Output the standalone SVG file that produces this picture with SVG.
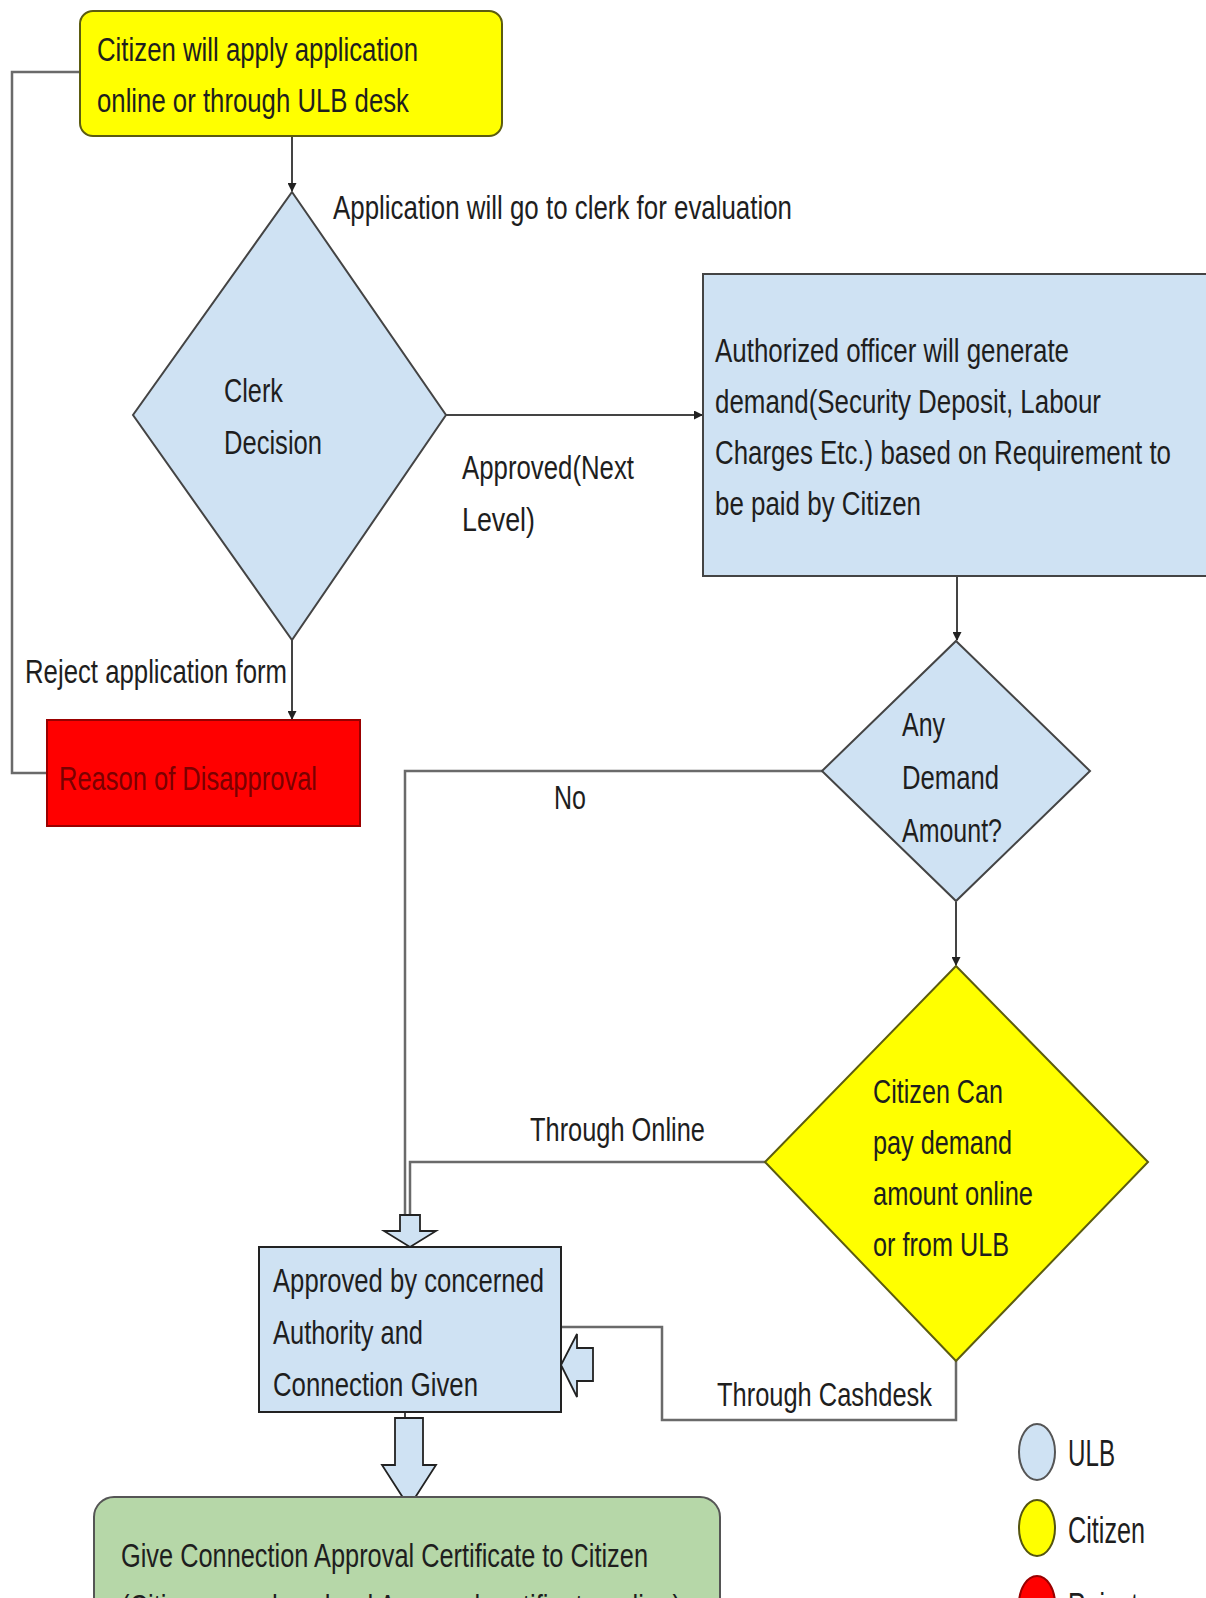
<svg xmlns="http://www.w3.org/2000/svg" width="1206" height="1598" viewBox="0 0 1206 1598">
<defs>
<marker id="ah" markerUnits="userSpaceOnUse" markerWidth="9" markerHeight="9" refX="8" refY="4.5" orient="auto">
<path d="M0,0 L9,4.5 L0,9 z" fill="#222"/>
</marker>
<style>
text{font-family:"Liberation Sans",Arial,sans-serif;font-size:33px;fill:#1e1e1e}
.con{fill:none;stroke:#444;stroke-width:2}
.gcon{fill:none;stroke:#6a6a6a;stroke-width:2.5}
.ulb{fill:#cfe2f3;stroke:#444;stroke-width:2}
.cit{fill:#ffff00;stroke:#5c5c10;stroke-width:2}
.blk{fill:#cfe2f3;stroke:#222;stroke-width:1.8}
.leg{font-size:36px}
</style>
</defs>
<rect width="1206" height="1598" fill="#ffffff"/>

<g id="connectors">
<path class="con" d="M292,136 V191" marker-end="url(#ah)"/>
<path class="gcon" d="M80,72 H12 V773 H47"/>
<path class="con" d="M446,415 H702" marker-end="url(#ah)"/>
<path class="con" d="M292,640 V719" marker-end="url(#ah)"/>
<path class="con" d="M957,576 V640" marker-end="url(#ah)"/>
<path class="con" d="M956,902 V965" marker-end="url(#ah)"/>
<path class="gcon" d="M822,771 H405 V1216"/>
<path class="gcon" d="M765,1162 H410 V1216"/>
<path class="gcon" d="M956,1361 V1420 H662 V1327 H561"/>
<path class="con" d="M405,1412 V1418"/>
<path d="M958,699 L964,703 L958,707 z" fill="#222"/>
<polygon class="blk" points="400,1215 420,1215 420,1231 436,1231 410,1247 384,1231 400,1231"/>
<polygon class="blk" points="593,1348 593,1381 577,1381 577,1397 561,1365 577,1334 577,1348"/>
<polygon class="blk" points="395,1418 423,1418 423,1465 436,1465 409,1507 382,1465 395,1465"/>
<text x="333" y="219" textLength="459" lengthAdjust="spacingAndGlyphs">Application will go to clerk for evaluation</text>
<text x="462" y="479" textLength="172" lengthAdjust="spacingAndGlyphs">Approved(Next</text>
<text x="462" y="531" textLength="73" lengthAdjust="spacingAndGlyphs">Level)</text>
<text x="25" y="683" textLength="262" lengthAdjust="spacingAndGlyphs">Reject application form</text>
<text x="554" y="809" textLength="32" lengthAdjust="spacingAndGlyphs">No</text>
<text x="530" y="1141" textLength="175" lengthAdjust="spacingAndGlyphs">Through Online</text>
<text x="717" y="1406" textLength="215" lengthAdjust="spacingAndGlyphs">Through Cashdesk</text>
</g>

<g id="node-apply">
<rect x="80" y="11" width="422" height="125" rx="13" class="cit"/>
<text x="97" y="61" textLength="321" lengthAdjust="spacingAndGlyphs">Citizen will apply application</text>
<text x="97" y="112" textLength="312" lengthAdjust="spacingAndGlyphs">online or through ULB desk</text>
</g>

<g id="node-clerk">
<polygon class="ulb" points="292,192 446,415 292,640 133,415"/>
<text x="224" y="402" textLength="59" lengthAdjust="spacingAndGlyphs">Clerk</text>
<text x="224" y="454" textLength="98" lengthAdjust="spacingAndGlyphs">Decision</text>
</g>

<g id="node-demand">
<rect x="703" y="274" width="504" height="302" class="ulb"/>
<text x="715" y="362" textLength="354" lengthAdjust="spacingAndGlyphs">Authorized officer will generate</text>
<text x="715" y="413" textLength="386" lengthAdjust="spacingAndGlyphs">demand(Security Deposit, Labour</text>
<text x="715" y="464" textLength="456" lengthAdjust="spacingAndGlyphs">Charges Etc.) based on Requirement to</text>
<text x="715" y="515" textLength="206" lengthAdjust="spacingAndGlyphs">be paid by Citizen</text>
</g>

<g id="node-reject">
<rect x="47" y="720" width="313" height="106" fill="#ff0000" stroke="#9a0000" stroke-width="2"/>
<text x="59" y="790" textLength="258" lengthAdjust="spacingAndGlyphs" style="fill:#7a0000">Reason of Disapproval</text>
</g>

<g id="node-any">
<polygon class="ulb" points="956,641 1090,771 956,901 822,771"/>
<text x="902" y="736" textLength="43" lengthAdjust="spacingAndGlyphs">Any</text>
<text x="902" y="789" textLength="97" lengthAdjust="spacingAndGlyphs">Demand</text>
<text x="902" y="842" textLength="100" lengthAdjust="spacingAndGlyphs">Amount?</text>
</g>

<g id="node-pay">
<polygon class="cit" points="956,966 1148,1162 956,1361 765,1162"/>
<text x="873" y="1103" textLength="130" lengthAdjust="spacingAndGlyphs">Citizen Can</text>
<text x="873" y="1154" textLength="139" lengthAdjust="spacingAndGlyphs">pay demand</text>
<text x="873" y="1205" textLength="160" lengthAdjust="spacingAndGlyphs">amount online</text>
<text x="873" y="1256" textLength="136" lengthAdjust="spacingAndGlyphs">or from ULB</text>
</g>

<g id="node-approved">
<rect x="259" y="1247" width="302" height="165" fill="#cfe2f3" stroke="#222" stroke-width="2"/>
<text x="273" y="1292" textLength="271" lengthAdjust="spacingAndGlyphs">Approved by concerned</text>
<text x="273" y="1344" textLength="150" lengthAdjust="spacingAndGlyphs">Authority and</text>
<text x="273" y="1396" textLength="205" lengthAdjust="spacingAndGlyphs">Connection Given</text>
</g>

<g id="node-certificate">
<rect x="94" y="1497" width="626" height="160" rx="20" fill="#b6d7a8" stroke="#555" stroke-width="2"/>
<text x="121" y="1567" textLength="527" lengthAdjust="spacingAndGlyphs">Give Connection Approval Certificate to Citizen</text>
<text x="121" y="1618" textLength="560" lengthAdjust="spacingAndGlyphs">(Citizen can download Approval certificate online)</text>
</g>

<g id="legend">
<ellipse cx="1037" cy="1452" rx="18" ry="28" fill="#cfe2f3" stroke="#555" stroke-width="2"/>
<text class="leg" x="1068" y="1466" textLength="47" lengthAdjust="spacingAndGlyphs">ULB</text>
<ellipse cx="1037" cy="1528" rx="18" ry="28" fill="#ffff00" stroke="#555510" stroke-width="2"/>
<text class="leg" x="1068" y="1543" textLength="77" lengthAdjust="spacingAndGlyphs">Citizen</text>
<ellipse cx="1037" cy="1604" rx="18" ry="28" fill="#ff0000" stroke="#990000" stroke-width="2"/>
<text class="leg" x="1068" y="1619" textLength="70" lengthAdjust="spacingAndGlyphs">Reject</text>
</g>
</svg>
